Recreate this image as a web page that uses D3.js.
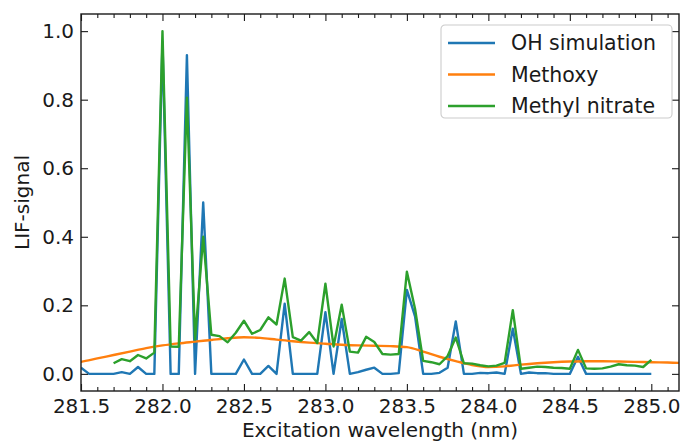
<!DOCTYPE html>
<html>
<head>
<meta charset="utf-8">
<script src="https://cdn.jsdelivr.net/npm/d3@7"></script>
<style>
  body { margin: 0; background: #fff; }
  text { font-family: "DejaVu Sans", sans-serif; fill: #1a1a1a; }
</style>
</head>
<body>
<svg id="chart"></svg>
<script>
'use strict';

// scan grid (nm) shared by the OH simulation and the methyl nitrate scan
var scanWavelength = [
  281.50, 281.55, 281.60, 281.65, 281.70, 281.75, 281.80, 281.85, 281.90, 281.95,
  282.00, 282.05, 282.10, 282.15, 282.20, 282.25, 282.30, 282.35, 282.40, 282.45,
  282.50, 282.55, 282.60, 282.65, 282.70, 282.75, 282.80, 282.85, 282.90, 282.95,
  283.00, 283.05, 283.10, 283.15, 283.20, 283.25, 283.30, 283.35, 283.40, 283.45,
  283.50, 283.55, 283.60, 283.65, 283.70, 283.75, 283.80, 283.85, 283.90, 283.95,
  284.00, 284.05, 284.10, 284.15, 284.20, 284.25, 284.30, 284.35, 284.40, 284.45,
  284.50, 284.55, 284.60, 284.65, 284.70, 284.75, 284.80, 284.85, 284.90, 284.95,
  285.00
];

var ohSignal = [
  0.018, 0, 0, 0, 0, 0.005, 0, 0.02, 0, 0,
  0.97, 0, 0, 0.93, 0, 0.5, 0, 0, 0, 0,
  0.042, 0, 0, 0.023, 0, 0.205, 0, 0, 0, 0,
  0.18, 0, 0.16, 0, 0.005, 0.012, 0.018, 0, 0, 0.002,
  0.245, 0.168, 0, 0, 0.003, 0.018, 0.153, 0, 0, 0.003,
  0.002, 0.004, 0, 0.132, 0, 0.004, 0.002, 0.002, 0, 0,
  0, 0.05, 0, 0, 0, 0, 0, 0, 0, 0,
  0
];

// methyl nitrate starts at 281.70 nm (null = not measured)
var nitrateSignal = [
  null, null, null, null, 0.031, 0.043, 0.037, 0.055, 0.045, 0.062,
  1.0, 0.08, 0.079, 0.806, 0.1, 0.4, 0.114, 0.11, 0.092, 0.12,
  0.155, 0.117, 0.128, 0.165, 0.144, 0.278, 0.107, 0.097, 0.122, 0.09,
  0.263, 0.08, 0.202, 0.065, 0.062, 0.108, 0.093, 0.058, 0.056, 0.058,
  0.298, 0.19, 0.038, 0.034, 0.028, 0.052, 0.106, 0.031, 0.03, 0.025,
  0.022, 0.024, 0.032, 0.186, 0.015, 0.018, 0.021, 0.02, 0.018, 0.017,
  0.015, 0.07, 0.016, 0.015, 0.016, 0.021, 0.028, 0.025, 0.024, 0.02,
  0.041
];

var methoxyWavelength = [
  281.4, 281.5, 281.6, 281.7, 281.8, 281.9, 282.0, 282.1, 282.2, 282.3,
  282.4, 282.5, 282.6, 282.7, 282.8, 282.9, 283.0, 283.1, 283.2, 283.3,
  283.4, 283.5, 283.6, 283.7, 283.8, 283.9, 284.0, 284.1, 284.2, 284.3,
  284.4, 284.5, 284.6, 284.7, 284.8, 284.9, 285.0, 285.1, 285.2, 285.3
];
var methoxySignal = [
  0.026, 0.035, 0.045, 0.055, 0.065, 0.075, 0.083, 0.089, 0.094, 0.099,
  0.104, 0.107, 0.105, 0.1, 0.095, 0.091, 0.088, 0.085, 0.083, 0.082,
  0.081, 0.078, 0.065, 0.05, 0.037, 0.026, 0.02, 0.022, 0.027, 0.031,
  0.034, 0.036, 0.037, 0.037, 0.036, 0.035, 0.034, 0.033, 0.032, 0.032
];

var seriesNames = ['OH simulation', 'Methoxy', 'Methyl nitrate'];
var seriesColors = ['#1f77b4', '#ff7f0e', '#2ca02c'];

var xTicks = [281.5, 282.0, 282.5, 283.0, 283.5, 284.0, 284.5, 285.0];
var xMinorTicks = [
  281.6, 281.7, 281.8, 281.9, 282.1, 282.2, 282.3, 282.4, 282.6, 282.7,
  282.8, 282.9, 283.1, 283.2, 283.3, 283.4, 283.6, 283.7, 283.8, 283.9,
  284.1, 284.2, 284.3, 284.4, 284.6, 284.7, 284.8, 284.9, 285.1
];
var yTicks = [0, 0.2, 0.4, 0.6, 0.8, 1.0];

// layout
var width = 684, height = 443;
var margin = {top: 14, right: 5, bottom: 52, left: 81};
var innerW = width - margin.left - margin.right;
var innerH = height - margin.top - margin.bottom;

var svg = d3.select('#chart').attr('width', width).attr('height', height);
var g = svg.append('g').attr('transform', 'translate(' + margin.left + ',' + margin.top + ')');

var x = d3.scaleLinear().domain([281.5, 285.17]).range([0, innerW]);
var y = d3.scaleLinear().domain([-0.05, 1.05]).range([innerH, 0]);

g.append('clipPath').attr('id', 'plotClip')
  .append('rect').attr('width', innerW).attr('height', innerH);

var plot = g.append('g').attr('clip-path', 'url(#plotClip)');

var line = d3.line()
  .defined(function(d) { return d[1] !== null; })
  .x(function(d) { return x(d[0]); })
  .y(function(d) { return y(d[1]); });

var ohData = scanWavelength.map(function(w, i) { return [w, ohSignal[i]]; });
var methoxyData = methoxyWavelength.map(function(w, i) { return [w, methoxySignal[i]]; });
var nitrateData = scanWavelength.map(function(w, i) { return [w, nitrateSignal[i]]; });

plot.append('path').datum(ohData)
  .attr('d', line).attr('fill', 'none')
  .attr('stroke', seriesColors[0]).attr('stroke-width', 2.4).attr('stroke-linejoin', 'round');

plot.append('path').datum(methoxyData)
  .attr('d', line.curve(d3.curveMonotoneX)).attr('fill', 'none')
  .attr('stroke', seriesColors[1]).attr('stroke-width', 2.4);
line.curve(d3.curveLinear);

plot.append('path').datum(nitrateData)
  .attr('d', line).attr('fill', 'none')
  .attr('stroke', seriesColors[2]).attr('stroke-width', 2.4).attr('stroke-linejoin', 'round');

// axes: ticks point inward on all four sides
function styleAxis(sel) {
  sel.select('.domain').remove();
  sel.selectAll('line').attr('stroke', '#1a1a1a').attr('stroke-width', 1.1);
  sel.selectAll('text').attr('font-size', 20).style('font-family', '"DejaVu Sans", sans-serif').attr('fill', '#1a1a1a');
}

g.append('g').attr('transform', 'translate(0,' + innerH + ')')
  .call(d3.axisBottom(x).tickValues(xTicks).tickFormat(d3.format('.1f')).tickSize(-7).tickPadding(8))
  .call(styleAxis);
g.append('g').attr('transform', 'translate(0,' + innerH + ')')
  .call(d3.axisBottom(x).tickValues(xMinorTicks).tickFormat('').tickSize(-4))
  .call(styleAxis);
g.append('g')
  .call(d3.axisTop(x).tickValues(xTicks).tickFormat('').tickSize(-7))
  .call(styleAxis);
g.append('g')
  .call(d3.axisTop(x).tickValues(xMinorTicks).tickFormat('').tickSize(-4))
  .call(styleAxis);
g.append('g')
  .call(d3.axisLeft(y).tickValues(yTicks).tickFormat(d3.format('.1f')).tickSize(-7).tickPadding(7))
  .call(styleAxis);
g.append('g').attr('transform', 'translate(' + innerW + ',0)')
  .call(d3.axisRight(y).tickValues(yTicks).tickFormat('').tickSize(-7))
  .call(styleAxis);

g.append('rect')
  .attr('width', innerW).attr('height', innerH)
  .attr('fill', 'none').attr('stroke', '#1a1a1a').attr('stroke-width', 1.4);

// axis titles
svg.append('text')
  .attr('x', margin.left + innerW / 2).attr('y', 437)
  .attr('text-anchor', 'middle').attr('font-size', 20)
  .text('Excitation wavelength (nm)');

svg.append('text')
  .attr('transform', 'translate(22,' + (margin.top + innerH / 2) + ') rotate(-90)')
  .attr('text-anchor', 'middle').attr('dy', '0.35em').attr('font-size', 20)
  .text('LIF-signal');

// legend, upper right
var legend = svg.append('g').attr('transform', 'translate(441,25)');
legend.append('rect')
  .attr('width', 231).attr('height', 93).attr('rx', 4)
  .attr('fill', '#fff').attr('fill-opacity', 0.8)
  .attr('stroke', '#cccccc').attr('stroke-width', 1.1);

seriesNames.forEach(function(name, i) {
  var row = legend.append('g').attr('transform', 'translate(0,' + (18 + i * 31.5) + ')');
  row.append('line')
    .attr('x1', 7).attr('x2', 54).attr('y1', 0).attr('y2', 0)
    .attr('stroke', seriesColors[i]).attr('stroke-width', 2.4);
  row.append('text')
    .attr('x', 70).attr('dy', '0.35em').attr('font-size', 20.5)
    .text(name);
});
</script>
</body>
</html>
